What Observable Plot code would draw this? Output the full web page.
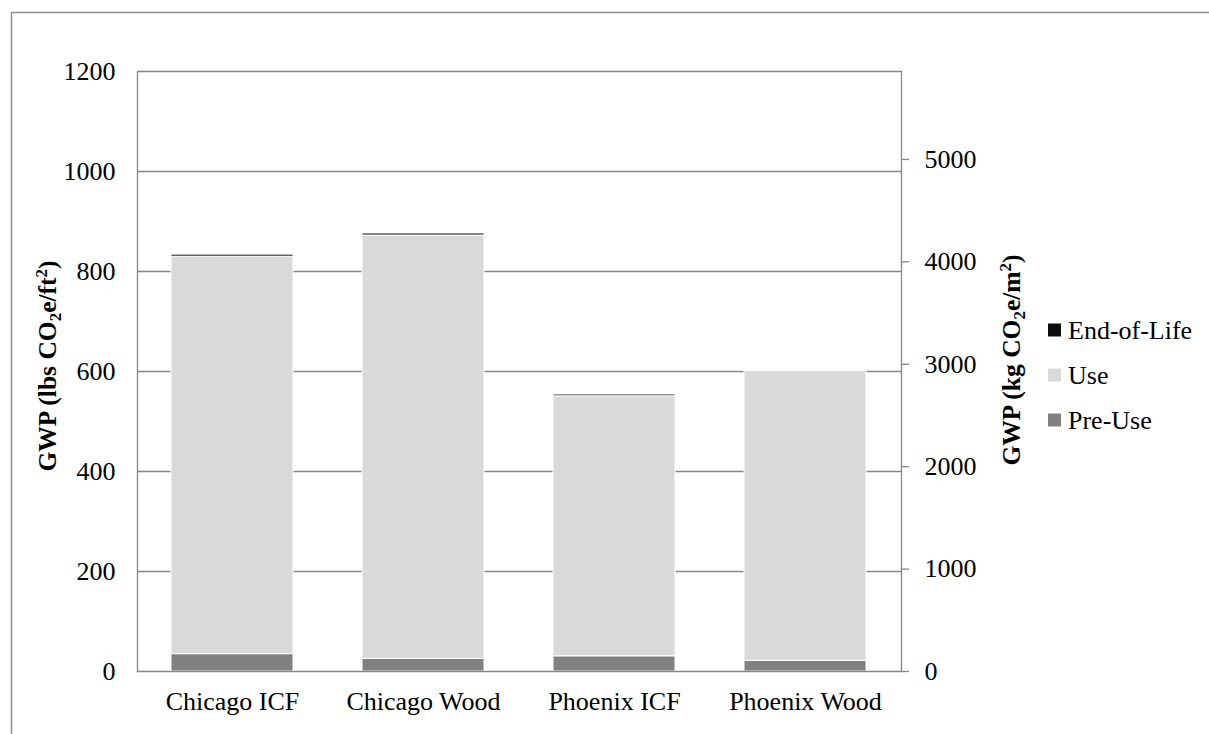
<!DOCTYPE html>
<html>
<head>
<meta charset="utf-8">
<script src="https://cdn.jsdelivr.net/npm/d3@7"></script>
<script src="https://cdn.jsdelivr.net/npm/@observablehq/plot@0.6"></script>
<style>
  html, body { margin: 0; padding: 0; background: #fff; overflow: hidden; }
  #chart { width: 1209px; height: 734px; }
</style>
</head>
<body>
<div id="chart"></div>
<script>
// ---- data ----
const categories = ["Chicago ICF", "Chicago Wood", "Phoenix ICF", "Phoenix Wood"];
const stages = ["Pre-Use", "Use", "End-of-Life"];
const preUse = [34.7, 25.4, 30.4, 21.4];
const use = [795, 846.6, 520, 579.5];
const endOfLife = [4, 4, 3.5, 0.8];
const leftTicks = [0, 200, 400, 600, 800, 1000, 1200];
const rightTicks = [0, 1000, 2000, 3000, 4000, 5000];
const kgPerLbFt2 = 4.8824;
const stageColors = ["#808080", "#d9d9d9", "#0d0d0d"];
const legendOrder = ["End-of-Life", "Use", "Pre-Use"];

const seriesByStage = {"Pre-Use": preUse, "Use": use, "End-of-Life": endOfLife};
const rows = [];
categories.forEach((c, i) => {
  stages.forEach(s => rows.push({category: c, stage: s, value: seriesByStage[s][i]}));
});

const axisGray = "#868686";
const font = "'Liberation Serif', 'Times New Roman', serif";

const plot = Plot.plot({
  width: 1209,
  height: 734,
  marginLeft: 137,
  marginRight: 308,
  marginTop: 71,
  marginBottom: 63,
  style: {fontFamily: font, fontSize: "26px", background: "white", color: "black", overflow: "visible"},
  x: {domain: categories, paddingInner: 0.36, paddingOuter: 0.18, label: null},
  y: {domain: [0, 1200], label: null},
  color: {domain: stages, range: stageColors},
  marks: [
    Plot.gridY(leftTicks.slice(1), {stroke: axisGray, strokeOpacity: 1, strokeWidth: 1.3}),
    Plot.barY(rows, {x: "category", y: "value", fill: "stage", stroke: "white", strokeWidth: 1}),
    Plot.frame({anchor: "left", stroke: axisGray, strokeWidth: 1.3}),
    Plot.frame({anchor: "right", stroke: axisGray, strokeWidth: 1.3}),
    Plot.frame({anchor: "bottom", stroke: axisGray, strokeWidth: 1.3}),
    Plot.axisY(leftTicks, {anchor: "left", tickSize: 0, tickPadding: 22, fontSize: 26, label: null, tickFormat: d => String(d)}),
    Plot.axisY(rightTicks.map(k => k / kgPerLbFt2), {
      anchor: "right", tickSize: 7, tickPadding: 16, fontSize: 26, label: null,
      stroke: axisGray, strokeWidth: 1.3,
      tickFormat: d => String(Math.round(d * kgPerLbFt2))
    }),
    Plot.axisX({anchor: "bottom", tickSize: 0, tickPadding: 20, fontSize: 26, label: null})
  ]
});

document.getElementById("chart").appendChild(plot);

const svg = d3.select(plot);

// outer frame
svg.append("path")
  .attr("d", "M11.5,734 V12.5 H1209")
  .attr("fill", "none")
  .attr("stroke", "#8c8c8c")
  .attr("stroke-width", 1.5);

// axis titles with sub/superscripts
function title(x, y, parts) {
  const t = svg.append("text")
    .attr("transform", `translate(${x},${y}) rotate(-90)`)
    .attr("text-anchor", "middle")
    .attr("font-family", font)
    .attr("font-weight", "bold")
    .attr("font-size", 25.5)
    .attr("fill", "black");
  parts.forEach(([txt, kind]) => {
    const ts = t.append("tspan").text(txt);
    if (kind === "sub") ts.attr("font-size", 17).attr("dy", 5);
    else if (kind === "sup") ts.attr("font-size", 17).attr("dy", -9);
    else if (kind === "afterSub") ts.attr("dy", -5);
    else if (kind === "afterSup") ts.attr("dy", 9);
  });
}
title(56, 366, [["GWP (lbs CO"], ["2", "sub"], ["e/ft", "afterSub"], ["2", "sup"], [")", "afterSup"]]);
title(1020, 360, [["GWP (kg CO"], ["2", "sub"], ["e/m", "afterSub"], ["2", "sup"], [")", "afterSup"]]);

// legend
const legend = svg.append("g")
  .attr("font-family", font)
  .attr("font-size", 26)
  .attr("text-anchor", "start");
legendOrder.forEach((s, i) => {
  const cy = 330 + i * 45;
  legend.append("rect")
    .attr("x", 1048).attr("y", cy - 6.5).attr("width", 13).attr("height", 13)
    .attr("fill", stageColors[stages.indexOf(s)]);
  legend.append("text")
    .attr("x", 1068).attr("y", cy).attr("dy", "0.35em")
    .attr("text-anchor", "start")
    .attr("fill", "black")
    .text(s);
});
</script>
</body>
</html>
